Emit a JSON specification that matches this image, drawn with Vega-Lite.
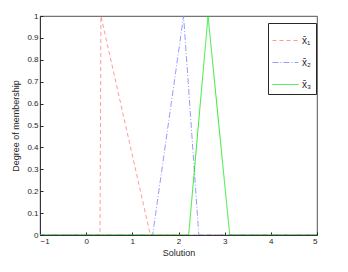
{
  "$schema": "https://vega.github.io/schema/vega-lite/v6.json",
  "width": 277,
  "height": 219,
  "autosize": "none",
  "padding": {"left": 40, "top": 16, "right": 31, "bottom": 37},
  "background": "white",
  "config": {
    "view": {"stroke": "#262626", "strokeWidth": 0.8},
    "font": "Liberation Sans",
    "axis": {
      "grid": false,
      "domainColor": "#262626",
      "domainWidth": 0.8,
      "tickColor": "#262626",
      "tickSize": -3,
      "labelColor": "#262626",
      "labelFontSize": 8,
      "titleFontSize": 9,
      "titleFontWeight": "normal",
      "titleColor": "#262626",
      "labelPadding": 5
    }
  },
  "data": {
    "values": [
      {"s": "1", "o": 0, "x": -1, "y": 0},
      {"s": "1", "o": 1, "x": 0.3, "y": 0},
      {"s": "1", "o": 2, "x": 0.32, "y": 1},
      {"s": "1", "o": 3, "x": 1.39, "y": 0},
      {"s": "1", "o": 4, "x": 5, "y": 0},
      {"s": "2", "o": 0, "x": -1, "y": 0},
      {"s": "2", "o": 1, "x": 1.44, "y": 0},
      {"s": "2", "o": 2, "x": 2.11, "y": 1},
      {"s": "2", "o": 3, "x": 2.44, "y": 0},
      {"s": "2", "o": 4, "x": 5, "y": 0},
      {"s": "3", "o": 0, "x": -1, "y": 0},
      {"s": "3", "o": 1, "x": 2.22, "y": 0},
      {"s": "3", "o": 2, "x": 2.64, "y": 1},
      {"s": "3", "o": 3, "x": 3.11, "y": 0},
      {"s": "3", "o": 4, "x": 5, "y": 0}
    ]
  },
  "mark": {"type": "line", "clip": true},
  "encoding": {
    "x": {
      "field": "x", "type": "quantitative",
      "scale": {"domain": [-1, 5], "nice": false},
      "axis": {"values": [-1, 0, 1, 2, 3, 4, 5], "title": "Solution", "titlePadding": 3}
    },
    "y": {
      "field": "y", "type": "quantitative",
      "scale": {"domain": [0, 1], "nice": false},
      "axis": {"values": [0, 0.1, 0.2, 0.3, 0.4, 0.5, 0.6, 0.7, 0.8, 0.9, 1], "format": "~g", "title": "Degree of membership", "titlePadding": 6}
    },
    "order": {"field": "o"},
    "color": {
      "field": "s", "type": "nominal",
      "scale": {"domain": ["1", "2", "3"], "range": ["#ff7f7f", "#7f7fff", "#00e600"]},
      "legend": {
        "title": null,
        "orient": "none",
        "legendX": 228,
        "legendY": 7,
        "symbolType": "stroke",
        "symbolSize": 676,
        "labelExpr": "'x̄' + (datum.label == '1' ? '₁' : datum.label == '2' ? '₂' : '₃')",
        "labelFontSize": 10,
        "labelColor": "#262626",
        "strokeColor": "#262626",
        "fillColor": "white",
        "padding": 4,
        "rowPadding": 3,
        "labelOffset": 3
      }
    },
    "strokeDash": {
      "field": "s", "type": "nominal",
      "scale": {"domain": ["1", "2", "3"], "range": [[4, 3], [6, 2, 1, 2], [1, 0]]}
    },
    "strokeWidth": {
      "field": "s", "type": "nominal",
      "scale": {"domain": ["1", "2", "3"], "range": [0.8, 0.8, 1.8]}
    }
  }
}
